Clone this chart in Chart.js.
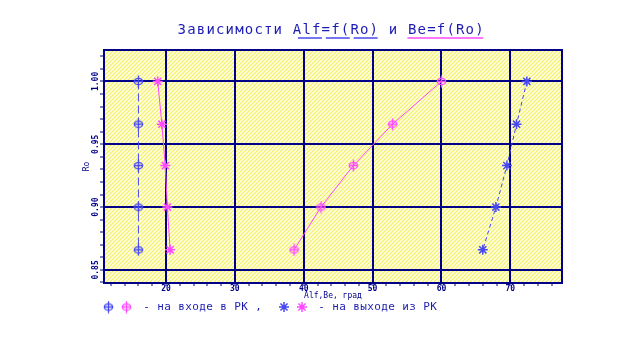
<!DOCTYPE html>
<html>
<head>
<meta charset="utf-8">
<script src="https://cdn.jsdelivr.net/npm/chart.js@4/dist/chart.umd.min.js"></script>
<style>
html, body { margin: 0; padding: 0; background: #fff; }
</style>
</head>
<body>
<canvas id="roCanvas" width="640" height="350"></canvas>
<script>
// Ro values and angles
const ro = [1.000, 0.966, 0.933, 0.900, 0.866];
const alfIn = [16.0, 16.0, 16.0, 16.0, 16.0];
const beIn = [60.0, 52.9, 47.2, 42.5, 38.6];
const alfOut = [72.4, 70.9, 69.5, 67.9, 66.0];
const beOut = [18.8, 19.4, 19.9, 20.2, 20.6];

const xMajor = [20, 30, 40, 50, 60, 70];
const yMajor = [0.85, 0.90, 0.95, 1.00];

const navy = "#000088";
const blue = "#4848f0";
const pink = "#ff48ff";
const textBlue = "#1c1cb4";
const mono = '"DejaVu Sans Mono", monospace';

// minor ticks: every 2 on x, every 0.01 on y
const xTicks = [];
for (let v = 12; v <= 76; v += 2) xTicks.push(v);
const yTicks = [];
for (let v = 84; v <= 102; v++) yTicks.push(v / 100);

const isMajorX = v => xMajor.includes(v);
const isMajorY = v => yMajor.some(m => Math.abs(m - v) < 1e-6);

function makeRing(color) {
    const c = document.createElement("canvas");
    c.width = 11; c.height = 13;
    const g = c.getContext("2d");
    g.strokeStyle = color;
    g.lineWidth = 1.3;
    g.beginPath();
    g.ellipse(5.5, 6.5, 4.2, 3.2, 0, 0, Math.PI * 2);
    g.stroke();
    g.beginPath();
    g.moveTo(5.5, 0.5); g.lineTo(5.5, 12.5);
    g.moveTo(1, 6.5); g.lineTo(10, 6.5);
    g.stroke();
    return c;
}
const ringBlue = makeRing(blue);
const ringPink = makeRing(pink);

const hatch = document.createElement("canvas");
hatch.width = 4; hatch.height = 4;
(function () {
    const g = hatch.getContext("2d");
    g.fillStyle = "#ffffe6";
    g.fillRect(0, 0, 4, 4);
    g.strokeStyle = "#f4f062";
    g.lineWidth = 1.2;
    g.beginPath();
    g.moveTo(-1, 5); g.lineTo(5, -1);
    g.moveTo(-1, 1); g.lineTo(1, -1);
    g.moveTo(3, 5); g.lineTo(5, 3);
    g.stroke();
})();

function spaced(ctx, text, x, y, step) {
    for (let i = 0; i < text.length; i++) {
        ctx.fillText(text[i], x + i * step + step / 2, y);
    }
}

function drawStar(ctx, x, y, r, color) {
    ctx.save();
    ctx.strokeStyle = color;
    ctx.lineWidth = 1.5;
    ctx.beginPath();
    for (let k = 0; k < 4; k++) {
        const a = k * Math.PI / 4;
        ctx.moveTo(x - r * Math.cos(a), y - r * Math.sin(a));
        ctx.lineTo(x + r * Math.cos(a), y + r * Math.sin(a));
    }
    ctx.stroke();
    ctx.restore();
}

const decor = {
    id: "decor",
    beforeDraw(chart) {
        const ctx = chart.ctx;
        const a = chart.chartArea;
        ctx.save();
        ctx.fillStyle = "#fff";
        ctx.fillRect(0, 0, chart.width, chart.height);
        ctx.fillStyle = ctx.createPattern(hatch, "repeat");
        ctx.fillRect(a.left, a.top, a.right - a.left, a.bottom - a.top);
        ctx.restore();
    },
    afterDatasetsDraw(chart) {
        const ctx = chart.ctx;
        const a = chart.chartArea;
        ctx.save();
        ctx.strokeStyle = navy;
        ctx.lineWidth = 2;
        ctx.strokeRect(a.left, a.top, a.right - a.left, a.bottom - a.top);
        ctx.restore();
    },
    afterDraw(chart) {
        const ctx = chart.ctx;
        ctx.save();
        // title
        ctx.fillStyle = textBlue;
        ctx.font = "14px " + mono;
        ctx.textAlign = "center";
        ctx.textBaseline = "middle";
        const cell = 9.6, x0 = 177;
        spaced(ctx, "Зависимости Alf=f(Ro) и Be=f(Ro)", x0, 30, cell);
        ctx.lineWidth = 1.5;
        ctx.strokeStyle = blue;
        [[12.6, 15.1], [15.5, 18.0], [18.4, 20.9]].forEach(s => {
            ctx.beginPath();
            ctx.moveTo(x0 + s[0] * cell, 38);
            ctx.lineTo(x0 + s[1] * cell, 38);
            ctx.stroke();
        });
        ctx.strokeStyle = pink;
        ctx.beginPath();
        ctx.moveTo(x0 + 24.0 * cell, 38);
        ctx.lineTo(x0 + 31.9 * cell, 38);
        ctx.stroke();

        // legend
        const ly = 307;
        ctx.drawImage(ringBlue, 103, ly - 6.5);
        ctx.drawImage(ringPink, 121, ly - 6.5);
        ctx.font = "11px " + mono;
        ctx.fillStyle = textBlue;
        spaced(ctx, "- на входе в РК ,", 143, ly, 7);
        drawStar(ctx, 284, ly, 5, blue);
        drawStar(ctx, 302, ly, 5, pink);
        spaced(ctx, "- на выходе из РК", 318, ly, 7);
        ctx.restore();
    }
};

function pts(xs) {
    return ro.map((r, i) => ({ x: xs[i], y: r }));
}

new Chart(document.getElementById("roCanvas"), {
    type: "scatter",
    data: {
        datasets: [
            {
                label: "Alf на входе",
                data: pts(alfIn),
                showLine: true,
                borderColor: blue,
                borderWidth: 1,
                borderDash: [8, 4],
                pointStyle: ringBlue
            },
            {
                label: "Be на входе",
                data: pts(beIn),
                showLine: true,
                borderColor: pink,
                borderWidth: 1,
                pointStyle: ringPink
            },
            {
                label: "Alf на выходе",
                data: pts(alfOut),
                showLine: true,
                borderColor: blue,
                borderWidth: 1,
                borderDash: [4, 3],
                pointStyle: "star",
                pointRadius: 5,
                pointBorderWidth: 1.5,
                pointBorderColor: blue
            },
            {
                label: "Be на выходе",
                data: pts(beOut),
                showLine: true,
                borderColor: pink,
                borderWidth: 1,
                pointStyle: "star",
                pointRadius: 5,
                pointBorderWidth: 1.5,
                pointBorderColor: pink
            }
        ]
    },
    options: {
        responsive: false,
        animation: false,
        layout: { padding: { left: 0, top: 50, right: 78, bottom: 0 } },
        plugins: {
            legend: { display: false },
            title: { display: false },
            tooltip: { enabled: false }
        },
        scales: {
            x: {
                type: "linear",
                min: 11,
                max: 77.5,
                afterBuildTicks: scale => { scale.ticks = xTicks.map(v => ({ value: v })); },
                afterFit: scale => { scale.height = 67; },
                border: { color: navy, width: 2 },
                grid: {
                    color: c => isMajorX(c.tick.value) ? navy : "rgba(0,0,0,0)",
                    lineWidth: 2,
                    tickColor: navy,
                    tickWidth: 1,
                    tickLength: 3
                },
                ticks: {
                    autoSkip: false,
                    maxRotation: 0,
                    padding: -2,
                    color: navy,
                    font: { family: mono, size: 8, weight: "bold" },
                    callback: v => isMajorX(v) ? String(v) : ""
                },
                title: {
                    display: true,
                    text: "Alf,Be, град",
                    color: navy,
                    font: { family: mono, size: 8 },
                    padding: { top: 0, bottom: 49 }
                }
            },
            y: {
                type: "linear",
                min: 0.8396,
                max: 1.025,
                afterBuildTicks: scale => { scale.ticks = yTicks.map(v => ({ value: v })); },
                afterFit: scale => { scale.width = 104; },
                border: { color: navy, width: 2 },
                grid: {
                    color: c => isMajorY(c.tick.value) ? navy : "rgba(0,0,0,0)",
                    lineWidth: 2,
                    tickColor: navy,
                    tickWidth: 1,
                    tickLength: 4
                },
                ticks: {
                    autoSkip: false,
                    minRotation: 90,
                    maxRotation: 90,
                    crossAlign: "center",
                    padding: -6,
                    color: navy,
                    font: { family: mono, size: 8, weight: "bold" },
                    callback: v => isMajorY(v) ? v.toFixed(2) : ""
                },
                title: {
                    display: true,
                    text: "Ro",
                    color: navy,
                    font: { family: mono, size: 8 },
                    padding: { top: 82, bottom: 0 }
                }
            }
        }
    },
    plugins: [decor]
});
</script>
</body>
</html>
